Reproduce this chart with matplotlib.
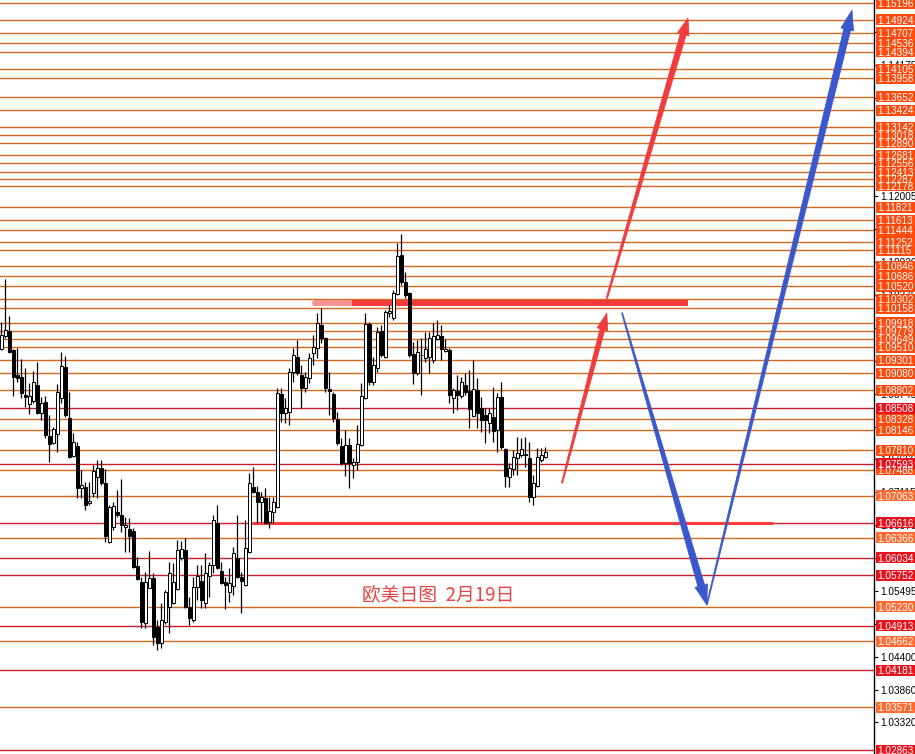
import numpy as np
import matplotlib.pyplot as plt
import matplotlib.transforms as mtransforms
from matplotlib.patches import Polygon, Rectangle

# daily EURUSD candles
opens = [1.0948, 1.0970, 1.0978, 1.0947, 1.0905, 1.0902, 1.0872, 1.0858, 1.0862, 1.0889,
         1.0843, 1.0861, 1.0805, 1.0793, 1.0808, 1.0867, 1.0919, 1.0834, 1.0771, 1.0788,
         1.0719, 1.0721, 1.0694, 1.0711, 1.0737, 1.0752, 1.0727, 1.0630, 1.0654, 1.0679,
         1.0674, 1.0654, 1.0651, 1.0648, 1.0590, 1.0563, 1.0496, 1.0554, 1.0570, 1.0489,
         1.0463, 1.0497, 1.0522, 1.0529, 1.0552, 1.0603, 1.0616, 1.0522, 1.0501, 1.0555,
         1.0565, 1.0529, 1.0574, 1.0592, 1.0661, 1.0582, 1.0563, 1.0547, 1.0557, 1.0603,
         1.0572, 1.0559, 1.0613, 1.0721, 1.0712, 1.0696, 1.0702, 1.0663, 1.0679, 1.0688,
         1.0874, 1.0843, 1.0844, 1.0910, 1.0935, 1.0905, 1.0884, 1.0900, 1.0942, 1.0950,
         1.0988, 1.0966, 1.0882, 1.0874, 1.0833, 1.0788, 1.0760, 1.0790, 1.0757, 1.0762,
         1.0790, 1.0867, 1.0990, 1.0894, 1.0917, 1.0978, 1.0935, 1.1008, 1.1000, 1.1039,
         1.1104, 1.1059, 1.1041, 1.0940, 1.0909, 1.0938, 1.0934, 1.0935, 1.0930, 1.0965,
         1.0970, 1.0945, 1.0947, 1.0867, 1.0879, 1.0871, 1.0889, 1.0879, 1.0838, 1.0881,
         1.0851, 1.0839, 1.0826, 1.0836, 1.0815, 1.0869, 1.0783, 1.0737, 1.0750, 1.0768,
         1.0773, 1.0773, 1.0768, 1.0704, 1.0722, 1.0765, 1.0770]
highs = [1.0993, 1.1064, 1.1003, 1.0948, 1.0950, 1.0932, 1.0917, 1.0892, 1.0912, 1.0927,
         1.0869, 1.0871, 1.0839, 1.0820, 1.0891, 1.0943, 1.0937, 1.0878, 1.0810, 1.0795,
         1.0749, 1.0728, 1.0728, 1.0757, 1.0765, 1.0765, 1.0750, 1.0691, 1.0696, 1.0716,
         1.0734, 1.0671, 1.0669, 1.0653, 1.0605, 1.0572, 1.0580, 1.0615, 1.0578, 1.0501,
         1.0529, 1.0550, 1.0597, 1.0595, 1.0633, 1.0631, 1.0636, 1.0539, 1.0572, 1.0592,
         1.0592, 1.0611, 1.0597, 1.0674, 1.0691, 1.0597, 1.0572, 1.0587, 1.0621, 1.0674,
         1.0580, 1.0666, 1.0744, 1.0754, 1.0722, 1.0712, 1.0719, 1.0704, 1.0704, 1.0884,
         1.0884, 1.0867, 1.0917, 1.0950, 1.0963, 1.0922, 1.0910, 1.0942, 1.0971, 1.1008,
         1.1016, 1.0968, 1.0910, 1.0877, 1.0844, 1.0801, 1.0815, 1.0801, 1.0768, 1.0823,
         1.0892, 1.1008, 1.0993, 1.0935, 1.0985, 1.0988, 1.1013, 1.1021, 1.1046, 1.1123,
         1.1138, 1.1075, 1.1042, 1.0960, 1.0963, 1.0966, 1.0976, 1.0976, 1.0991, 1.0996,
         1.0988, 1.0965, 1.0950, 1.0884, 1.0905, 1.0902, 1.0909, 1.0914, 1.0930, 1.0900,
         1.0869, 1.0851, 1.0851, 1.0886, 1.0876, 1.0894, 1.0785, 1.0760, 1.0782, 1.0803,
         1.0801, 1.0803, 1.0795, 1.0740, 1.0785, 1.0785, 1.0786]
lows = [1.0947, 1.0966, 1.0942, 1.0871, 1.0894, 1.0867, 1.0853, 1.0841, 1.0859, 1.0841,
        1.0831, 1.0801, 1.0762, 1.0792, 1.0778, 1.0859, 1.0836, 1.0768, 1.0770, 1.0702,
        1.0702, 1.0683, 1.0691, 1.0704, 1.0702, 1.0724, 1.0630, 1.0628, 1.0649, 1.0671,
        1.0646, 1.0613, 1.0613, 1.0586, 1.0567, 1.0487, 1.0487, 1.0553, 1.0460, 1.0451,
        1.0455, 1.0494, 1.0479, 1.0527, 1.0550, 1.0600, 1.0521, 1.0493, 1.0497, 1.0534,
        1.0521, 1.0521, 1.0539, 1.0578, 1.0585, 1.0560, 1.0519, 1.0531, 1.0542, 1.0570,
        1.0512, 1.0557, 1.0612, 1.0711, 1.0661, 1.0663, 1.0659, 1.0653, 1.0661, 1.0686,
        1.0828, 1.0826, 1.0823, 1.0894, 1.0905, 1.0851, 1.0877, 1.0892, 1.0922, 1.0934,
        1.0958, 1.0877, 1.0839, 1.0828, 1.0790, 1.0757, 1.0739, 1.0719, 1.0735, 1.0749,
        1.0788, 1.0866, 1.0889, 1.0889, 1.0910, 1.0935, 1.0934, 1.1001, 1.0996, 1.1037,
        1.1054, 1.1033, 1.0935, 1.0891, 1.0905, 1.0872, 1.0927, 1.0909, 1.0925, 1.0963,
        1.0930, 1.0943, 1.0859, 1.0843, 1.0848, 1.0867, 1.0872, 1.0818, 1.0836, 1.0818,
        1.0811, 1.0793, 1.0810, 1.0795, 1.0778, 1.0783, 1.0721, 1.0721, 1.0740, 1.0740,
        1.0770, 1.0754, 1.0696, 1.0691, 1.0721, 1.0762, 1.0768]
closes = [1.0971, 1.0980, 1.0943, 1.0902, 1.0900, 1.0876, 1.0869, 1.0871, 1.0894, 1.0843,
          1.0859, 1.0806, 1.0791, 1.0816, 1.0878, 1.0920, 1.0839, 1.0770, 1.0795, 1.0719,
          1.0724, 1.0691, 1.0697, 1.0747, 1.0752, 1.0727, 1.0640, 1.0688, 1.0689, 1.0674,
          1.0658, 1.0658, 1.0640, 1.0588, 1.0568, 1.0497, 1.0563, 1.0570, 1.0473, 1.0463,
          1.0501, 1.0547, 1.0578, 1.0563, 1.0616, 1.0618, 1.0522, 1.0504, 1.0555, 1.0574,
          1.0534, 1.0578, 1.0592, 1.0666, 1.0587, 1.0562, 1.0559, 1.0562, 1.0611, 1.0572,
          1.0565, 1.0620, 1.0727, 1.0712, 1.0696, 1.0704, 1.0661, 1.0681, 1.0696, 1.0876,
          1.0843, 1.0851, 1.0910, 1.0938, 1.0909, 1.0884, 1.0902, 1.0934, 1.0952, 1.0991,
          1.0966, 1.0884, 1.0879, 1.0834, 1.0793, 1.0760, 1.0790, 1.0760, 1.0762, 1.0791,
          1.0871, 1.0990, 1.0894, 1.0922, 1.0976, 1.0939, 1.1009, 1.1011, 1.1041, 1.1102,
          1.1059, 1.1037, 1.0939, 1.0909, 1.0943, 1.0939, 1.0948, 1.0966, 1.0970, 1.0971,
          1.0948, 1.0948, 1.0872, 1.0881, 1.0872, 1.0894, 1.0877, 1.0849, 1.0882, 1.0843,
          1.0831, 1.0831, 1.0843, 1.0813, 1.0869, 1.0786, 1.0739, 1.0752, 1.0770, 1.0777,
          1.0783, 1.0775, 1.0704, 1.0727, 1.0770, 1.0773, 1.0778]

# horizontal price levels with their label colour: o = orange, r = red, l = light orange
levels = [1.15196, 1.14924, 1.14707, 1.14536, 1.14394, 1.14105, 1.13958, 1.13652, 1.13424,
          1.13142, 1.13018, 1.12890, 1.12681, 1.12556, 1.12413, 1.12287, 1.12178, 1.11821,
          1.11613, 1.11444, 1.11252, 1.11115, 1.10846, 1.10686, 1.10520, 1.10302, 1.10158,
          1.09918, 1.09779, 1.09649, 1.09510, 1.09301, 1.09080, 1.08802, 1.08508, 1.08328,
          1.08146, 1.07810, 1.07593, 1.07488, 1.07063, 1.06616, 1.06366, 1.06034, 1.05752,
          1.05230, 1.04913, 1.04662, 1.04181, 1.03571, 1.02863]
level_kind = ['o', 'o', 'o', 'o', 'o', 'o', 'o', 'o', 'o',
              'o', 'o', 'o', 'o', 'o', 'o', 'o', 'o', 'o',
              'o', 'o', 'o', 'o', 'o', 'o', 'o', 'o', 'o',
              'o', 'o', 'o', 'o', 'o', 'o', 'o', 'r', 'o',
              'o', 'o', 'r', 'o', 'l', 'r', 'l', 'r', 'r',
              'l', 'r', 'l', 'r', 'l', 'r']

# plain price-axis ticks
tick_vals = [1.03320, 1.03860, 1.04400, 1.04940, 1.05495, 1.06030, 1.06575, 1.07115,
             1.07660, 1.08200, 1.08745, 1.09290, 1.09830, 1.10375, 1.10920, 1.11460,
             1.12005, 1.12545, 1.13090, 1.13630, 1.14175, 1.14715]

# drawn annotations (bar index, price)
resist_price, resist_from, resist_solid, resist_to = 1.1025, 78.4, 87.7, 171.7
support_price, support_from, support_to = 1.0661, 62.7, 192.9
red_arrows = [((140.2, 1.0727), (151.4, 1.1008)), ((151.4, 1.1032), (171.7, 1.1495))]
blue_arrows = [((155.2, 1.1008), (176.4, 1.0526)), ((176.4, 1.0526), (212.7, 1.1508))]
note_pos = (109.2, 1.0543)
note_text = '欧美日图  2月19日'

line_col = {'o': '#d2691e', 'r': '#c81e2a', 'l': '#d2691e'}
box_col = {'o': '#ff4a0e', 'r': '#e8121e', 'l': '#ff6a33'}

fig = plt.figure(figsize=(9.15, 7.54), dpi=100)
ax = fig.add_axes([0, 0, 874 / 915, 1])
ax.set_xlim(-0.3, 218.2)
ax.set_ylim(1.02797, 1.15246)

for lv, k in zip(levels, level_kind):
    ax.axhline(lv, color=line_col[k], lw=1.0, zorder=1)

# red support / resistance lines
ax.plot([resist_from, resist_solid], [resist_price, resist_price], color='#f47a7a',
        lw=4.3, alpha=0.8, solid_capstyle='round', zorder=2)
ax.plot([resist_solid, resist_to], [resist_price, resist_price], color='#f23b3b',
        lw=4.3, solid_capstyle='butt', zorder=2)
ax.plot([support_from, support_to], [support_price, support_price], color='#ff3b3b',
        lw=2.2, solid_capstyle='butt', zorder=2)

# candles
o = np.array(opens)
h = np.array(highs)
l = np.array(lows)
c = np.array(closes)
x = np.arange(len(o))
up = c >= o
body_lo = np.minimum(o, c)
body_h = np.maximum(np.abs(c - o), 0.00005)
ax.vlines(x, l, h, color='black', lw=0.9, zorder=3)
ax.bar(x[up], body_h[up], bottom=body_lo[up], width=0.72, facecolor='white',
       edgecolor='black', linewidth=0.7, zorder=4)
ax.bar(x[~up], body_h[~up], bottom=body_lo[~up], width=0.72, facecolor='black',
       edgecolor='black', linewidth=0.7, zorder=4)


def taper_arrow(p0, p1, w0, w1, head_w, head_l, color):
    a = ax.transData.transform(p0)
    b = ax.transData.transform(p1)
    u = (b - a) / np.hypot(*(b - a))
    n = np.array([-u[1], u[0]])
    base = b - u * head_l
    pts = [a + n * w0 / 2, base + n * w1 / 2, base + n * head_w / 2, b,
           base - n * head_w / 2, base - n * w1 / 2, a - n * w0 / 2]
    ax.add_patch(Polygon(pts, closed=True, facecolor=color, edgecolor=color, lw=0.5,
                         transform=mtransforms.IdentityTransform(), zorder=6))


taper_arrow(*red_arrows[0], 1.2, 5, 11, 17, '#f03c3c')
taper_arrow(*red_arrows[1], 1.5, 6, 12, 17, '#f03c3c')
taper_arrow(*blue_arrows[0], 1.0, 7, 13, 20, '#3a58cc')
taper_arrow(*blue_arrows[1], 1.0, 7, 13, 20, '#3a58cc')

ax.text(note_pos[0], note_pos[1], note_text, color='#ea4444', fontsize=13.5,
        family=['Noto Sans CJK SC', 'DejaVu Sans'], ha='center', va='center', zorder=7)

# right price axis
for s in ['left', 'top', 'bottom']:
    ax.spines[s].set_visible(False)
ax.spines['right'].set_color('black')
ax.spines['right'].set_linewidth(1.0)
ax.set_xticks([])
ax.yaxis.tick_right()
ax.set_yticks(tick_vals, [f'{v:.5f}' for v in tick_vals])
ax.tick_params(axis='y', length=3, width=0.8, pad=1.5, labelsize=7.2,
               labelfontfamily='Liberation Sans', colors='black')

ytr = ax.get_yaxis_transform()
box_h = 11 / 6057
for lv, k in sorted(zip(levels, level_kind)):
    ax.add_patch(Rectangle((1 + 1.5 / 874, lv - box_h / 2), 0.06, box_h, transform=ytr,
                           facecolor=box_col[k], edgecolor='none', clip_on=False, zorder=8))
    ax.text(1 + 3.5 / 874, lv, f'{lv:.5f}', transform=ytr, color='white', fontsize=7.2,
            family='Liberation Sans', ha='left', va='center_baseline', clip_on=False, zorder=9)

fig.savefig('out.png', dpi=100)
